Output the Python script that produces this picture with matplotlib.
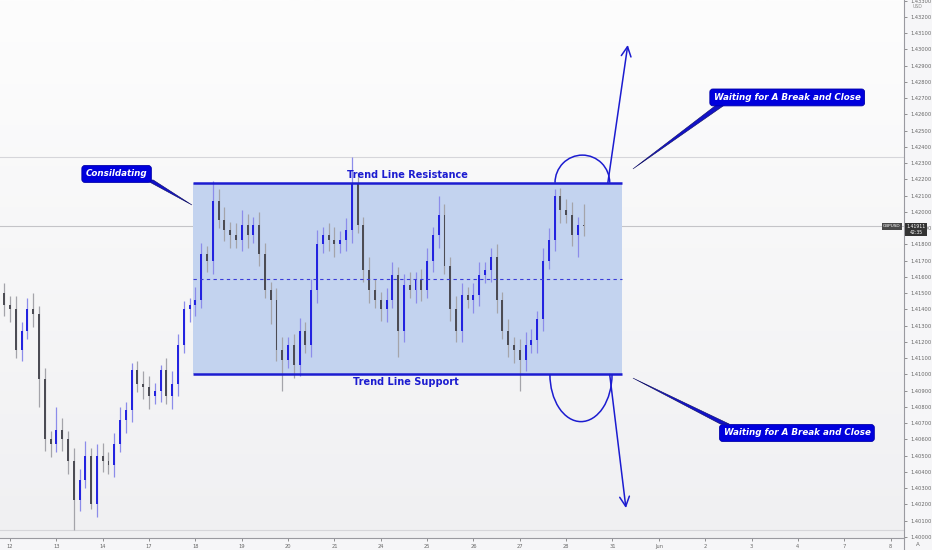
import numpy as np
import matplotlib
matplotlib.use('Agg')
import matplotlib.pyplot as plt
from matplotlib.patches import Rectangle, Arc, Polygon
from matplotlib.lines import Line2D
from matplotlib.ticker import MultipleLocator, FormatStrFormatter
from matplotlib.colors import LinearSegmentedColormap
from matplotlib.transforms import blended_transform_factory

# trading days on the time axis (weekends skipped)
day_labels = ['12', '13', '14', '17', '18', '19', '20', '21', '24', '25',
              '26', '27', '28', '31', 'Jun', '2', '3', '4', '7', '8']

# GBPUSD 3h candles, first bar at 21:00 of the 11th
bars_per_day = 8
first_bar = -0.125
first_open = 1.4150
closes = [1.4143, 1.4140, 1.4115, 1.4127, 1.4140, 1.4137, 1.4097, 1.4060, 1.4057, 1.4066,
          1.4060, 1.4047, 1.4023, 1.4035, 1.4050, 1.4020, 1.4050, 1.4047, 1.4044, 1.4057,
          1.4072, 1.4078, 1.4103, 1.4094, 1.4092, 1.4087, 1.4090, 1.4103, 1.4087, 1.4094,
          1.4118, 1.4140, 1.4143, 1.4146, 1.4174, 1.4170, 1.4207, 1.4195, 1.4189, 1.4186,
          1.4183, 1.4192, 1.4186, 1.4192, 1.4174, 1.4152, 1.4146, 1.4115, 1.4109, 1.4118,
          1.4106, 1.4127, 1.4118, 1.4152, 1.4180, 1.4186, 1.4183, 1.4180, 1.4183, 1.4189,
          1.4217, 1.4192, 1.4164, 1.4152, 1.4146, 1.4140, 1.4146, 1.4161, 1.4127, 1.4155,
          1.4152, 1.4158, 1.4152, 1.4170, 1.4186, 1.4198, 1.4167, 1.4140, 1.4127, 1.4149,
          1.4146, 1.4149, 1.4161, 1.4164, 1.4172, 1.4146, 1.4127, 1.4118, 1.4115, 1.4109,
          1.4118, 1.4121, 1.4134, 1.4170, 1.4183, 1.4210, 1.4201, 1.4198, 1.4186, 1.4192,
          1.41911]
# wick lengths in pips above / below the body
wick_up = [6, 5, 8, 5, 7, 10, 5, 7, 5, 14,
           7, 5, 8, 7, 9, 5, 7, 8, 5, 7,
           8, 5, 4, 5, 8, 7, 5, 3, 7, 8,
           7, 5, 4, 8, 7, 5, 12, 7, 8, 5,
           7, 9, 7, 5, 8, 7, 5, 7, 8, 5,
           7, 8, 5, 7, 9, 5, 7, 8, 5, 7,
           17, 7, 5, 8, 7, 5, 7, 8, 5, 7,
           8, 5, 7, 8, 5, 12, 7, 5, 8, 7,
           5, 7, 8, 5, 6, 8, 5, 7, 5, 7,
           8, 7, 5, 8, 7, 4, 5, 7, 8, 5,
           13]
wick_dn = [7, 8, 5, 7, 5, 8, 17, 7, 8, 5,
           7, 8, 19, 7, 5, 3, 8, 7, 5, 7,
           5, 8, 7, 5, 7, 8, 5, 7, 5, 8,
           7, 5, 8, 7, 5, 7, 8, 5, 7, 8,
           5, 7, 8, 5, 7, 5, 15, 7, 19, 5,
           8, 7, 5, 7, 8, 5, 7, 8, 5, 7,
           8, 5, 7, 8, 5, 7, 8, 5, 16, 7,
           5, 8, 7, 5, 7, 8, 5, 7, 7, 7,
           5, 8, 7, 5, 7, 8, 5, 7, 8, 19,
           7, 5, 8, 7, 5, 7, 8, 5, 7, 14,
           6]
pip = 0.0001

# range drawn on the chart
range_start, range_end = 3.95, 13.2
resistance = 1.4218
support = 1.4100

opens = np.array([first_open] + closes[:-1])
closes = np.array(closes)
t = first_bar + np.arange(len(closes)) / bars_per_day
highs = np.maximum(opens, closes) + np.array(wick_up) * pip
lows = np.minimum(opens, closes) - np.array(wick_dn) * pip
up = closes >= opens

blue = '#1c1cd0'

fig = plt.figure(figsize=(9.32, 5.5), dpi=100, facecolor='#f6f6f8')
ax = fig.add_axes([0, 12 / 550, 904 / 932, 538 / 550])

# soft background gradient
bg = LinearSegmentedColormap.from_list('bg', ['#f0f0f2', '#fdfdfd'])
ax.imshow(np.linspace(0, 1, 256).reshape(-1, 1), extent=(0, 1, 0, 1),
          transform=ax.transAxes, cmap=bg, aspect='auto', origin='lower', zorder=0)

# high / low / last price lines
ax.axhline(1.4234, color='#d6d6da', lw=0.8, zorder=0.5)
ax.axhline(lows.min(), color='#d6d6da', lw=0.8, zorder=0.5)
ax.axhline(closes[-1], color='#c4c4c8', lw=0.8, zorder=0.5)

# consolidation box
ax.add_patch(Rectangle((range_start, support), range_end - range_start,
                       resistance - support, fc='#c3d3ef', ec='none', zorder=1))
ax.hlines([support, resistance], range_start, range_end, color=blue, lw=1.8, zorder=3)
ax.hlines((support + resistance) / 2, range_start, range_end, color='#3a3ad8',
          lw=0.8, linestyles=(0, (3, 3)), zorder=3)

# candles
ax.vlines(t, lows, highs, colors=np.where(up, '#8c8cea', '#a4a4aa'), lw=0.9, zorder=1.9)
ax.bar(t, np.maximum(np.abs(closes - opens), 0.00003), bottom=np.minimum(opens, closes),
       width=0.042, color=np.where(up, '#2323e0', '#4c4c54'), lw=0, zorder=2)

# break-out arcs and arrows
ax.add_patch(Arc((12.35, resistance), 1.18, 0.0034, theta1=0, theta2=180,
                 color=blue, lw=1.1, zorder=3))
ax.add_patch(Arc((12.32, support), 1.34, 0.0058, theta1=180, theta2=360,
                 color=blue, lw=1.1, zorder=3))
arrow = dict(arrowstyle='->,head_length=0.7,head_width=0.35', color=blue, lw=1.1,
             shrinkA=0, shrinkB=0)
ax.annotate('', xy=(13.33, 1.43028), xytext=(12.90, resistance), arrowprops=arrow)
ax.annotate('', xy=(13.29, 1.40178), xytext=(12.94, support), arrowprops=arrow)

ax.text(8.57, 1.42228, 'Trend Line Resistance', ha='center', va='center',
        fontsize=7, fontweight='bold', color=blue, zorder=4)
ax.text(8.54, 1.40954, 'Trend Line Support', ha='center', va='center',
        fontsize=7, fontweight='bold', color=blue, zorder=4)


def callout(x, y, text, tail):
    ax.add_patch(Polygon(tail, closed=True, fc='#1212c8', ec='#0c0c60', lw=0.4, zorder=5))
    ax.text(x, y, text, ha='center', va='center', fontsize=6.3, fontweight='bold',
            style='italic', color='white', zorder=6,
            bbox=dict(boxstyle='round,pad=0.45,rounding_size=0.35', fc='#0000dd',
                      ec='#0000aa', lw=0.6))


callout(2.30, 1.42234, 'Consildating',
        [(2.93, 1.42197), (3.09, 1.42197), (3.927, 1.42043)])
callout(16.77, 1.42705, 'Waiting for A Break and Close',
        [(15.27, 1.42665), (15.45, 1.42665), (13.441, 1.42265)])
callout(16.98, 1.4064, 'Waiting for A Break and Close',
        [(15.33, 1.40695), (15.52, 1.40695), (13.441, 1.40978)])

# axes styling
ax.set_xlim(-0.216, 19.29)
ax.set_ylim(1.399938, 1.433046)
ax.yaxis.tick_right()
ax.yaxis.set_major_locator(MultipleLocator(0.001))
ax.yaxis.set_major_formatter(FormatStrFormatter('%.5f'))
ax.set_xticks(range(len(day_labels)))
ax.set_xticklabels(day_labels)
ax.tick_params(axis='both', labelsize=3.7, colors='#666666', length=2.5, width=0.5, pad=2)
for s in ['top', 'left']:
    ax.spines[s].set_visible(False)
for s in ['right', 'bottom']:
    ax.spines[s].set_color('#9a9aa0')
    ax.spines[s].set_linewidth(0.8)

tr = blended_transform_factory(ax.transAxes, ax.transData)
ax.text(1.0155, 1.43262, 'USD', transform=tr, fontsize=3.3, color='#888888',
        ha='center', va='center', clip_on=False)
ax.text(0.9866, closes[-1], 'GBPUSD', transform=tr, fontsize=3.1, color='white',
        ha='center', va='center', clip_on=False, zorder=7,
        bbox=dict(boxstyle='square,pad=0.25', fc='#4a4a4a', ec='none'))
ax.text(1.0135, closes[-1] - 0.0002, '%.5f\n42:35' % closes[-1], transform=tr,
        fontsize=3.3, color='white', ha='center', va='center', clip_on=False, zorder=7,
        linespacing=1.3, bbox=dict(boxstyle='square,pad=0.25', fc='#333333', ec='none'))

fig.add_artist(Line2D([904 / 932] * 2, [0, 12 / 550], color='#9a9aa0', lw=0.8))
fig.text(918 / 932, 1 - 544 / 550, 'A', fontsize=4, color='#666666', ha='center', va='center')

fig.savefig('out.png', dpi=100, facecolor=fig.get_facecolor())
